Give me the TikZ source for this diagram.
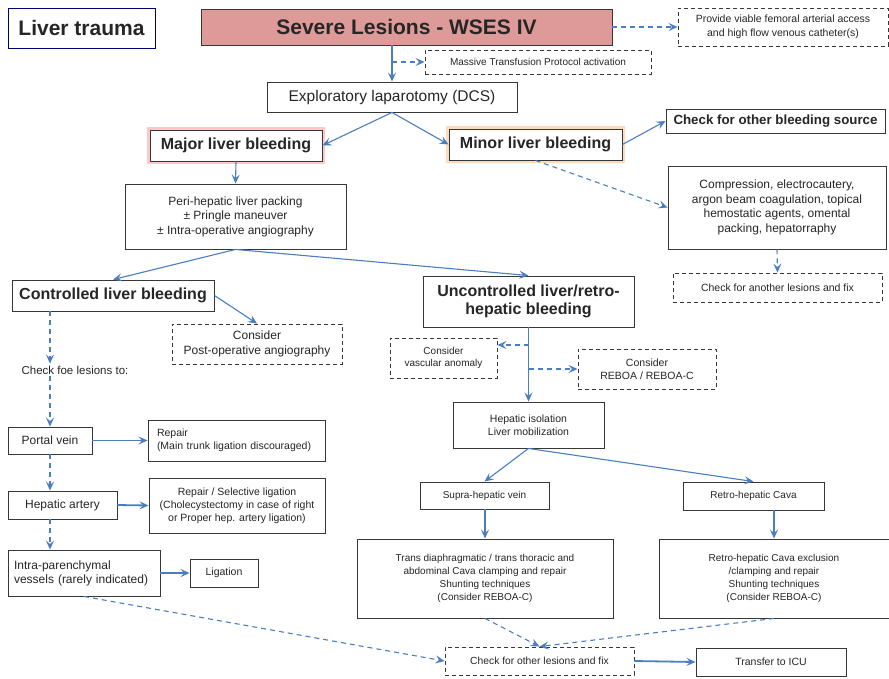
\documentclass[tikz,border=0pt]{standalone}
\usepackage{fontspec}
\setmainfont{Liberation Sans}
\usetikzlibrary{arrows.meta}
\definecolor{flowblue}{RGB}{74,126,193}
\definecolor{boxline}{RGB}{55,55,55}
\definecolor{txt}{RGB}{38,38,38}
\definecolor{severefill}{RGB}{221,154,152}
\newcommand{\fs}[2]{\fontsize{#1}{#2}\selectfont}
\begin{document}
\begin{tikzpicture}[x=1pt, y=-1pt,
      box/.style={draw=boxline, line width=0.9pt, fill=white, text=txt,
                  align=center, inner sep=2pt},
      dbox/.style={box, dash pattern=on 4pt off 3pt},
      arr/.style={-{Stealth[length=9pt, width=8pt, inset=3.5pt]}, flowblue, line width=1.1pt},
      darr/.style={arr, dash pattern=on 5pt off 4pt}]
    \useasboundingbox (0,0) rectangle (889,678);
    % top row
    \node[box, draw=blue!45!black, minimum width=147pt, minimum height=40pt,
          font=\fs{21}{24}\bfseries] (title) at (81.5,28) {Liver trauma};
    \node[box, fill=severefill, minimum width=411pt, minimum height=36pt,
          font=\fs{21}{24}\bfseries] (severe) at (406.5,27) {Severe Lesions - WSES IV};
    \node[dbox, minimum width=210pt, minimum height=38pt, font=\fs{10.5}{14}] (femoral) at (783,27)
         {Provide viable femoral arterial access\\and high flow venous catheter(s)};
    \node[dbox, minimum width=226pt, minimum height=24pt, font=\fs{10}{12}] (mtp) at (538,62)
         {Massive Transfusion Protocol activation};
    \node[box, minimum width=250pt, minimum height=30pt, font=\fs{15.5}{18}] (explap) at (392,97)
         {Exploratory laparotomy (DCS)};
    % major / minor
    \node[box, preaction={draw=red!22, line width=6pt}, minimum width=172pt, minimum height=31pt,
          font=\fs{16}{18}\bfseries] (major) at (236,145.5) {Major liver bleeding};
    \node[box, preaction={draw=orange!28, line width=6pt}, minimum width=173pt, minimum height=31pt,
          font=\fs{16}{18}\bfseries] (minor) at (535.5,144.5) {Minor liver bleeding};
    \node[box, minimum width=219pt, minimum height=24pt, font=\fs{13.3}{15}\bfseries] (othersrc)
         at (775.5,121) {Check for other bleeding source};
    \node[box, minimum width=218pt, minimum height=83pt, font=\fs{12}{14.6}] (compress) at (777,207.5)
         {Compression, electrocautery,\\argon beam coagulation, topical\\hemostatic agents, omental\\packing, hepatorraphy};
    \node[dbox, minimum width=209pt, minimum height=29pt, font=\fs{10.5}{13}] (anotherfix) at (777.5,287.5)
         {Check for another lesions and fix};
    \node[box, minimum width=221pt, minimum height=65pt, font=\fs{12}{14.5}] (packing) at (235.5,216.5)
         {Peri-hepatic liver packing\\± Pringle maneuver\\± Intra-operative angiography};
    % controlled branch
    \node[box, minimum width=202pt, minimum height=31pt, font=\fs{16}{18}\bfseries] (controlled)
         at (113,295.5) {Controlled liver bleeding};
    \node[dbox, minimum width=170pt, minimum height=40pt, font=\fs{12}{14.3}] (postangio) at (257,344)
         {Consider\\Post-operative angiography};
    \node[text=txt, font=\fs{11.5}{13}, inner sep=2pt] (checkfoe) at (75,370) {Check foe lesions to:};
    \node[box, minimum width=84pt, minimum height=27pt, font=\fs{12}{14}] (portal) at (50,440.5) {Portal vein};
    \node[box, align=left, inner xsep=9pt, text width=159pt, minimum height=41pt, font=\fs{10.5}{13.5}]
         (repairpv) at (236.5,440.5) {Repair\\(Main trunk ligation discouraged)};
    \node[box, minimum width=109pt, minimum height=28pt, font=\fs{12}{14}] (hepart) at (62.5,505) {Hepatic artery};
    \node[box, minimum width=176pt, minimum height=55pt, font=\fs{10.5}{12.8}] (repairha) at (237,505.5)
         {Repair / Selective ligation\\(Cholecystectomy in case of right\\or Proper hep. artery ligation)};
    \node[box, align=left, inner xsep=6pt, text width=140pt, minimum height=46pt, font=\fs{12}{14}]
         (intrapar) at (84,573) {Intra-parenchymal\\vessels (rarely indicated)};
    \node[box, minimum width=68pt, minimum height=28pt, font=\fs{10.5}{13}] (ligation) at (224,573) {Ligation};
    % uncontrolled branch
    \node[box, minimum width=211pt, minimum height=51pt, font=\fs{16}{18}\bfseries] (uncontrolled)
         at (528.5,301.5) {Uncontrolled liver/retro-\\hepatic bleeding};
    \node[dbox, minimum width=107pt, minimum height=40pt, font=\fs{10}{12.7}] (vascanom) at (443.5,358)
         {Consider\\vascular anomaly};
    \node[dbox, minimum width=138pt, minimum height=40pt, font=\fs{10.5}{13}] (reboa) at (647,369)
         {Consider\\REBOA / REBOA-C};
    \node[box, minimum width=151pt, minimum height=46pt, font=\fs{10.5}{13.3}] (isolation) at (528.5,425)
         {Hepatic isolation\\Liver mobilization};
    \node[box, minimum width=129pt, minimum height=27pt, font=\fs{10}{12}] (supra) at (484.5,495.5)
         {Supra-hepatic vein};
    \node[box, minimum width=141pt, minimum height=28pt, font=\fs{10}{12}] (retrocava) at (753.5,496)
         {Retro-hepatic Cava};
    \node[box, minimum width=256pt, minimum height=79pt, font=\fs{10}{13}] (transdia) at (485,578.5)
         {Trans diaphragmatic / trans thoracic and\\abdominal Cava clamping and repair\\Shunting techniques\\(Consider REBOA-C)};
    \node[box, minimum width=230pt, minimum height=79pt, font=\fs{10}{13}] (cavaexcl) at (774,578.5)
         {Retro-hepatic Cava exclusion\\/clamping and repair\\Shunting techniques\\(Consider REBOA-C)};
    \node[dbox, minimum width=189pt, minimum height=28pt, font=\fs{10.3}{12}] (otherfix) at (539.5,661)
         {Check for other lesions and fix};
    \node[box, minimum width=150pt, minimum height=28pt, font=\fs{10.5}{12}] (icu) at (771,662)
         {Transfer to ICU};
    \coordinate (vasctap) at (528.5,345);
    % connectors
    \draw[arr]  (severe.south -| explap.north) -- (explap.north);
    \draw[darr] (explap.north |- mtp.west) -- (mtp.west);
    \draw[darr] (severe.east) -- (femoral.west);
    \draw[arr]  (explap.south) -- (major.east);
    \draw[arr]  (explap.south) -- (minor.west);
    \draw[arr]  (minor.east) -- (othersrc.west);
    \draw[darr] (minor.south) -- (compress.west);
    \draw[darr] (compress.south) -- (anotherfix.north);
    \draw[arr]  (major.south) -- (packing.north);
    \draw[arr]  (packing.south) -- (controlled.north);
    \draw[arr]  (packing.south) -- (uncontrolled.north);
    \draw[arr]  (controlled.east) -- (postangio.north);
    \draw[darr] (portal.north |- controlled.south) -- (portal.north |- checkfoe.north);
    \draw[darr] (portal.north |- checkfoe.south) -- (portal.north);
    \draw[arr, line width=1.8pt] (portal.east) -- (repairpv.west);
    \draw[darr] (portal.south) -- (portal.south |- hepart.north);
    \draw[arr, line width=1.8pt] (hepart.east) -- (repairha.west);
    \draw[darr] (portal.south |- hepart.south) -- (portal.south |- intrapar.north);
    \draw[arr, line width=1.8pt] (intrapar.east) -- (ligation.west);
    \draw[darr] (intrapar.south) -- (otherfix.west);
    \draw[arr, line width=1.5pt] (uncontrolled.south) -- (isolation.north);
    \draw[darr] (vasctap) -- (vascanom.east |- vasctap);
    \draw[darr] (uncontrolled.south |- reboa.west) -- (reboa.west);
    \draw[arr]  (isolation.south) -- (supra.north);
    \draw[arr]  (isolation.south) -- (retrocava.north);
    \draw[arr, line width=1.5pt] (supra.south -| transdia.north) -- (transdia.north);
    \draw[arr, line width=1.5pt] (cavaexcl.north |- retrocava.south) -- (cavaexcl.north);
    \draw[darr] (transdia.south) -- (otherfix.north);
    \draw[darr] (cavaexcl.south) -- (otherfix.north);
    \draw[arr, line width=1.8pt] (otherfix.east) -- (icu.west);
  \end{tikzpicture}
\end{document}
